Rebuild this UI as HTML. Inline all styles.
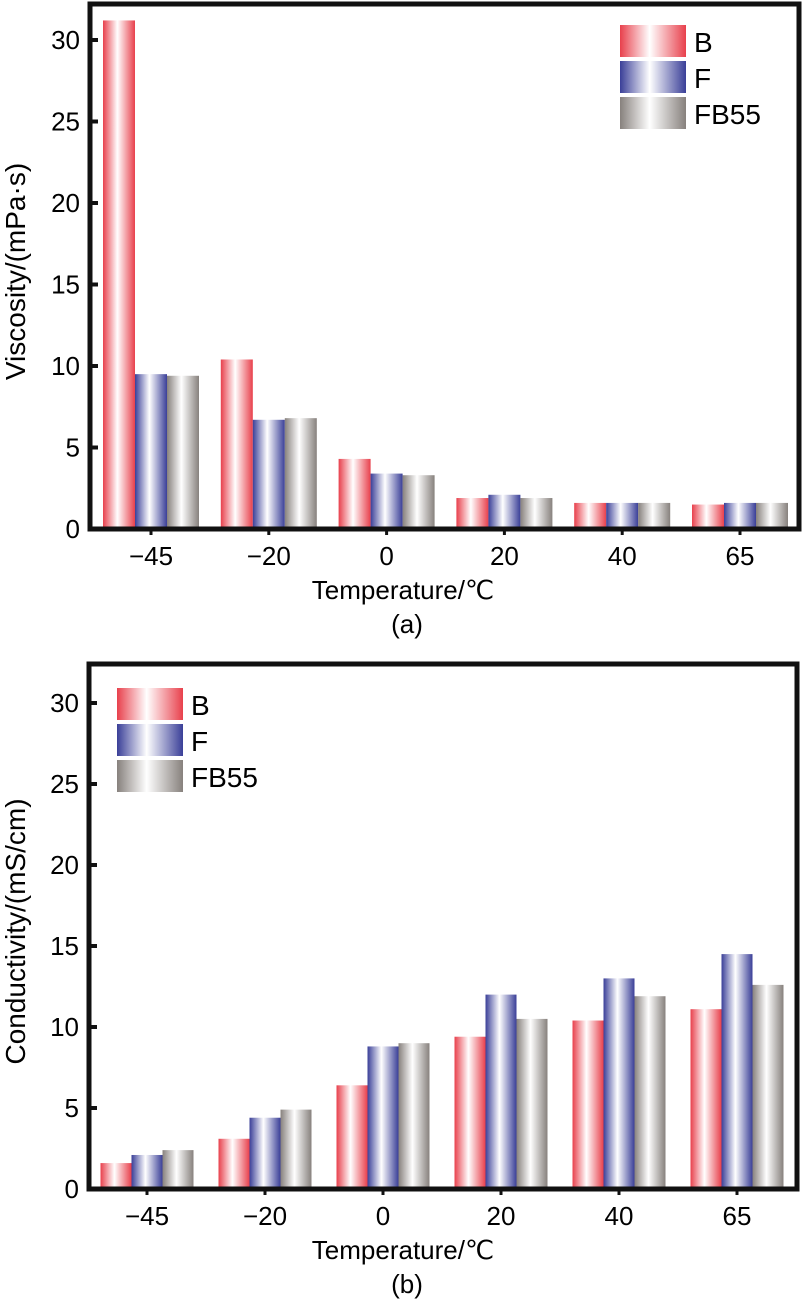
<!DOCTYPE html>
<html><head><meta charset="utf-8"><style>
body{margin:0;background:#fff;}
svg{display:block;font-family:"Liberation Sans",sans-serif;}
</style></head><body>
<svg id="svg" width="803" height="1299" viewBox="0 0 803 1299" xmlns="http://www.w3.org/2000/svg">
<defs>
<linearGradient id="gB" x1="0" x2="1" y1="0" y2="0"><stop offset="0" stop-color="#e8404c"/><stop offset="0.45" stop-color="#ffffff"/><stop offset="1" stop-color="#e8404c"/></linearGradient>
<linearGradient id="gF" x1="0" x2="1" y1="0" y2="0"><stop offset="0" stop-color="#3a3f98"/><stop offset="0.45" stop-color="#ffffff"/><stop offset="1" stop-color="#3a3f98"/></linearGradient>
<linearGradient id="gG" x1="0" x2="1" y1="0" y2="0"><stop offset="0" stop-color="#87817d"/><stop offset="0.45" stop-color="#ffffff"/><stop offset="1" stop-color="#87817d"/></linearGradient>
</defs>
</svg>
<script>
const categories = ["\u221245","\u221220","0","20","40","65"];
const seriesNames = ["B","F","FB55"];
const viscB = [31.2, 10.4, 4.3, 1.9, 1.6, 1.5];
const viscF = [9.5, 6.7, 3.4, 2.1, 1.6, 1.6];
const viscG = [9.4, 6.8, 3.3, 1.9, 1.6, 1.6];
const condB = [1.6, 3.1, 6.4, 9.4, 10.4, 11.1];
const condF = [2.1, 4.4, 8.8, 12.0, 13.0, 14.5];
const condG = [2.4, 4.9, 9.0, 10.5, 11.9, 12.6];
const yTicks = [0, 5, 10, 15, 20, 25, 30];

const NS = "http://www.w3.org/2000/svg";
const svg = document.getElementById('svg');
function mk(tag, attrs, parent, text){
  const e = document.createElementNS(NS, tag);
  for (const k in attrs) e.setAttribute(k, attrs[k]);
  if (text !== undefined) e.textContent = text;
  (parent || svg).appendChild(e);
  return e;
}
const fills = ["url(#gB)","url(#gF)","url(#gG)"];

function chart(cfg){
  const g = mk('g', {});
  
  
  const yScale = v => cfg.y0 - v * cfg.pxPer;
  const xCenter = i => cfg.c0 + i * cfg.step;
  const bw = cfg.bw;
  cfg.series.forEach((arr, s) => {
    arr.forEach((v, i) => {
      const x = xCenter(i) + (s - 1.5) * bw;
      const r = mk('rect', {x: x, y: yScale(v), width: bw, height: cfg.y0 - yScale(v), fill: fills[s]}, g);
      
      
    });
  });
  const f = mk('rect', {x: cfg.left, y: cfg.top, width: cfg.right - cfg.left, height: cfg.y0 - cfg.top, fill: 'none', stroke: '#111', 'stroke-width': 5}, g);
  
  
  yTicks.forEach(t => {
    const yy = yScale(t);
    const tk = mk('line', {x1: cfg.left, x2: cfg.left + 8, y1: yy, y2: yy, stroke: '#111', 'stroke-width': 4}, g);
    
    
    const lb = mk('text', {x: cfg.left - 10, y: yy + 9, 'text-anchor': 'end', 'font-size': 26}, g, String(t));
    
    
  });
  categories.forEach((c, i) => {
    const tk = mk('line', {x1: xCenter(i), x2: xCenter(i), y1: cfg.y0, y2: cfg.y0 + 6, stroke: '#111', 'stroke-width': 3}, g);
    
    
    const lb = mk('text', {x: xCenter(i), y: cfg.y0 + 36, 'text-anchor': 'middle', 'font-size': 26}, g, c);
    
    
  });
  const xt = mk('text', {x: 403, y: cfg.y0 + 70, 'text-anchor': 'middle', 'font-size': 26}, g, 'Temperature/\u2103');
  
  
  const pl = mk('text', {x: 407, y: cfg.y0 + 104, 'text-anchor': 'middle', 'font-size': 26}, g, cfg.panel);
  
  
  const yc = (cfg.top + cfg.y0) / 2 + 5;
  const yt = mk('text', {x: 0, y: 0, 'text-anchor': 'middle', 'font-size': 28, transform: 'translate(25,' + yc + ') rotate(-90)'}, g, cfg.ytitle);
  
  
  seriesNames.forEach((n, s) => {
    const ly = cfg.legY + s * 36;
    const sw = mk('rect', {x: cfg.legX, y: ly, width: 66, height: 32, fill: fills[s]}, g);
    
    
    const tx = mk('text', {x: cfg.legX + 74, y: ly + 27, 'font-size': 28}, g, n);
    
    
  });
}

chart({name: 'viscosity-chart', series: [viscB, viscF, viscG], left: 90, right: 799, top: 4, y0: 529, pxPer: 16.3, c0: 151, step: 117.8, bw: 32, panel: '(a)', ytitle: 'Viscosity/(mPa\u00b7s)', legX: 620, legY: 25});
chart({name: 'conductivity-chart', series: [condB, condF, condG], left: 89, right: 797, top: 664, y0: 1189, pxPer: 16.2, c0: 147, step: 118, bw: 31, panel: '(b)', ytitle: 'Conductivity/(mS/cm)', legX: 117, legY: 688});
</script>
</body></html>
